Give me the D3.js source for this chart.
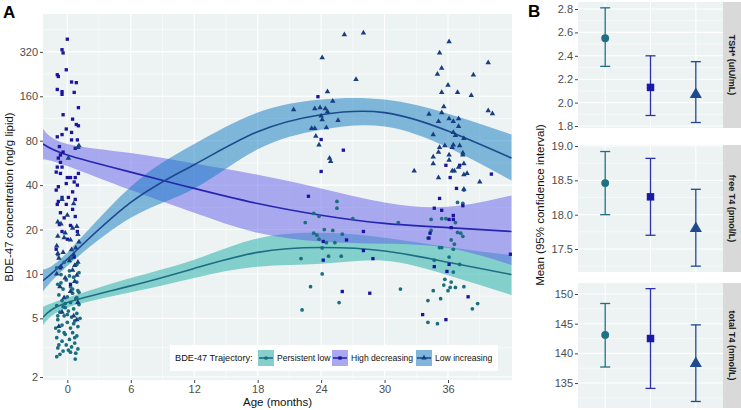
<!DOCTYPE html>
<html><head><meta charset="utf-8">
<script src="https://cdn.jsdelivr.net/npm/d3@7"></script>
<style>body{margin:0;background:#fff;}svg{font-family:"Liberation Sans",Arial,sans-serif;display:block}</style>
</head><body><svg id="c" width="741" height="410"></svg>
<script>
// ---------------- DATA ----------------
const groups = ["Persistent low", "High decreasing", "Low increasing"];
const xTicks = [0, 6, 12, 18, 24, 30, 36];
const yTicks = [2, 5, 10, 20, 40, 80, 160, 320];

// fitted curves (age in months) with 95% bands
const fitAges = [-2.3, 0, 6, 12, 18, 24, 30, 36, 42];
const fitPL  = [5.1, 6.4, 8.3, 10.9, 14.0, 15.1, 14.3, 12.0, 9.9];
const lowPL  = [4.5, 5.9, 7.5, 9.4, 11.2, 11.7, 12.3, 9.8, 7.2];
const upPL   = [6.0, 6.9, 9.4, 12.5, 17.4, 19.0, 17.6, 15.2, 13.4];
const fitHD  = [76, 64, 49, 38, 30, 25, 22, 20.6, 19.4];
const lowHD  = [60, 54, 37, 26, 19, 16.6, 16.0, 15.0, 11.5];
const upHD   = [96, 76, 66, 56, 47, 38, 30.5, 28.5, 34];
const fitLI  = [9.0, 12.6, 30.5, 55, 92, 120, 124, 93, 61];
const lowLI  = [7.6, 11.3, 24, 38, 70, 95, 100, 72, 43];
const upLI   = [10.7, 14.0, 39, 76, 124, 152, 152, 122, 88];

// individual measurements [age, concentration]
const ptsPL = [
 [-0.9,13.5],[0.4,12.8],[-0.3,12.0],[0.9,11.6],[-1.0,11.0],[0.2,10.5],[1.1,10.2],[-0.6,9.9],[0.6,9.5],[-0.1,9.1],
 [0.9,8.8],[-0.9,8.5],[0.3,8.2],[-0.4,7.9],[1.0,7.7],[0.5,7.4],[-0.8,7.2],[0.0,7.0],[0.8,6.8],[-0.5,6.6],
 [0.3,6.4],[1.1,6.2],[-1.0,6.1],[-0.2,5.9],[0.6,5.8],[0.1,5.6],[-0.7,5.5],[0.9,5.4],[-0.3,5.2],[0.4,5.1],
 [-0.9,4.9],[0.7,4.8],[0.0,4.7],[-0.5,4.5],[1.0,4.4],[0.3,4.3],[-0.8,4.1],[0.5,4.0],[-0.2,3.9],[0.9,3.8],
 [-1.0,3.7],[0.2,3.6],[-0.5,3.5],[0.7,3.4],[-0.1,3.3],[0.4,3.2],[-0.9,3.15],[1.0,3.1],[-0.4,3.0],[0.3,2.95],
 [-0.7,2.85],[0.1,3.05],[0.8,2.9],[-1.0,2.75],[0.75,2.65],[-0.2,6.3],[0.5,7.9],[-0.6,8.7],[0.2,9.7],[-0.9,5.2],
 [0.9,6.9],[-0.3,4.0],[0.7,3.7],[0.0,5.3],[-0.8,3.3],[1.2,5.0],[-1.1,4.3],[0.6,4.6],[-0.4,6.0],[1.1,7.5],
 [25.5,31],[25.5,27.9],[23.3,25.7],[23.8,24.6],[22.5,22.3],[27.0,23.7],[23.3,18.9],[23.6,18.3],[24.3,20],[25.1,19.7],
 [23.8,17.2],[26.0,18.6],[25.3,16.3],[24.5,16.3],[24.1,15],[22.1,12.7],[24.7,13.2],[25.9,13.2],[24.1,10],[23.0,8.2],
 [25.7,6.4],[22.2,5.7],[31.3,22.3],[31.5,7.9],
 [34.4,23.4],[35.4,23.7],[35.8,23.7],[36.7,22.3],[36.9,19.1],[37.2,18.9],[37.4,18],[34.4,19.7],[34.1,17.5],[36.3,17],
 [36.6,15.9],[35.2,15.1],[35.4,15.1],[36.5,14.7],[36.9,30.5],[37.4,30.1],[37.5,37],[34.7,12.4],[36.1,13.0],[37.1,11.6],
 [36.5,10.3],[35.7,9.2],[36.3,8.8],[35.6,8.4],[36.2,8.1],[36.0,7.7],[36.7,8.1],[37.5,8.2],[34.6,7.7],[34.1,6.6],
 [35.3,6.8],[38.8,6.3],[38.3,5.8],[34.1,4.7],[35.0,4.6]
];
const ptsHD = [
 [0,390],[-0.5,331],[-0.4,315],[-0.1,242],[-0.95,224],[-0.85,218],[0.4,200],[0.85,198],[-0.95,178],[-0.5,172],
 [-0.5,165],[0.65,170],[1.05,134],[-0.4,120],[0.5,112],[0.85,103],[1.05,101],[-0.1,96],[0.4,91],[-0.95,85],
 [-0.5,88],[0.4,81],[0.95,81],[-0.75,73],[-0.4,67],[-0.65,64],[-0.85,61],[0.75,71],[-0.65,57],[-0.95,53],
 [-0.5,53],[-1.05,49],[-0.65,48],[0,45],[0.3,45],[1.05,48],[0.75,45],[-0.1,41],[0.65,42],[-0.85,39],
 [0.95,40],[-1.05,37],[0.5,36],[-0.5,33],[0.1,33],[0.75,32],[-0.85,31],[-0.95,29.6],[-0.1,29.6],[0.5,27.4],
 [-0.65,26],[-0.3,24],[0.75,24.5],[-0.75,21.6],[0.3,21.3],[-0.5,19.4],[0.95,19.4],[0,17.2],[-1.05,14.7],[0.65,13],
 [-0.65,11],[0.3,8.5],
 [23.7,159],[24.0,81.5],[26.1,69],[24.0,49.5],[22.8,33.6],[28.0,19.4],[26.4,17],[24.2,16.6],[28.0,14.4],[24.2,12.4],
 [28.9,12.7],[26.0,7.6],[28.6,7.4],
 [35.8,54.5],[37.1,54.5],[36.2,45],[40.1,47.5],[36.8,38],[35.2,32.5],[34.7,27.9],[35.4,27],[37.4,29],[36.5,24.9],
 [36.1,23.4],[36.5,23.4],[34.3,18.9],[34.2,17.5],[36.3,20.6],[41.9,13.6],[34.7,11.2],[36.1,11.6],[35.9,10.4],[37.9,7.0],
 [33.6,5.3],[35.8,4.9]
];
const ptsLI = [
 [1.0,72],[1.1,74],[0.1,61],[-0.5,32],[0.6,30],[-0.9,22.5],[-0.6,21.8],[0.5,20.4],[0.9,21],[-0.9,18],
 [-0.3,17.6],[0.3,17],[1.1,16.5],[-1.0,15.5],[0.8,15],[-0.4,14],[0.6,13.5],[-0.8,12.8],[0.2,12.3],[1.0,12.0],
 [-0.6,11.2],[0.5,10.6],[-1.0,10],[0.9,9.8],[-0.2,9.4],[0.7,8.9],[-0.7,8.2],[0.3,7.6],[-0.3,6.9],[1.0,6.4],
 [0.6,5.2],[0.9,4.9],[-0.5,5.5],[-0.8,4.4],[0.0,25],[-0.2,19],[1.0,18.5],[0.4,14.6],[-0.9,13.8],[0.7,11.4],
 [26.2,419],[28.0,430],[24.1,292],[27.3,208],[24.6,172],[25.1,148],[21.4,130],[23.4,132],[23.9,134],[24.4,132],
 [24.6,126],[24.0,118],[24.1,111],[25.6,110],[23.1,97],[23.4,97],[24.5,98],[23.5,86],[23.8,75],[24.8,61],[24.9,58],
 [36.1,375],[35.2,315],[39.8,270],[35.4,248],[35.0,226],[38.4,223],[36.0,190],[35.4,170],[36.9,170],[38.2,162],
 [35.6,136],[35.4,124],[39.8,128],[40.2,122],[34.2,121],[36.1,113],[36.5,108],[37.0,113],[35.1,108],[37.0,100],
 [36.5,91],[36.7,87],[34.6,88],[37.5,83],[35.7,74],[36.5,75],[37.1,74],[35.2,72],[35.1,67],[36.4,72],
 [37.4,66],[36.1,64],[34.6,62],[37.4,64],[36.1,59],[34.6,56],[37.5,56],[37.0,53],[36.4,50],[36.6,50],
 [37.8,48],[37.5,47],[32.8,50],[35.1,45],[39.0,42],[37.5,37.6]
];

// Panel B: mean and 95% CI by trajectory group
const tshMean = [2.55, 2.13, 2.07], tshLow = [2.31, 1.89, 1.83], tshHigh = [2.81, 2.40, 2.35];
const ft4Mean = [18.46, 18.26, 17.80], ft4Low = [18.00, 17.70, 17.25], ft4High = [18.92, 18.82, 18.37];
const tt4Mean = [143.1, 142.5, 138.3], tt4Low = [137.7, 134.1, 131.9], tt4High = [148.4, 150.9, 144.8];
const tshTicks = [1.8, 2.0, 2.2, 2.4, 2.6, 2.8];
const ft4Ticks = [17.5, 18.0, 18.5, 19.0];
const tt4Ticks = [135, 140, 145, 150];
const stripLabels = ["TSH* (uIU/mL)", "free T4 (pmol/L)", "total T4 (nmol/L)"];

// ---------------- STYLE ----------------
const BG = "#edf2f2";
const ptCol = ["#1b6d80", "#1c14a0", "#173f80"];
const lineCol = ["#1f6d85", "#2626b0", "#1d4a8e"];
const ribCol = ["#18aba5", "#625de9", "#1079c1"];
const ribOp = 0.5;
const barCol = ["#1f6f85", "#3030ac", "#1f4a8e"];
const tickTxt = "#4d4d4d";

const svg = d3.select("#c");

function styleAxis(g) {
  g.select(".domain").remove();
  g.selectAll(".tick line").attr("stroke", "#444").attr("stroke-width", 1);
  g.selectAll(".tick text").attr("fill", tickTxt).style("font-size", "11px").style("font-family", '"Liberation Sans",Arial,sans-serif');
}

// ---------------- PANEL A ----------------
const A = {l: 43, r: 512, t: 14, b: 380};
const x = d3.scaleLinear().domain([-2.3, 42.05]).range([A.l, A.r]);
const y = d3.scaleLog().base(2).domain([1.91, 578]).range([A.b, A.t]);

const gA = svg.append("g");
gA.append("rect").attr("x", A.l).attr("y", A.t).attr("width", A.r - A.l).attr("height", A.b - A.t).attr("fill", BG);

const xMinor = [3, 9, 15, 21, 27, 33, 39];
const yMinor = [];
for (let i = 0; i < yTicks.length - 1; i++) yMinor.push(Math.sqrt(yTicks[i] * yTicks[i + 1]));
yMinor.push(yTicks[yTicks.length - 1] * Math.SQRT2);

gA.selectAll(".xmin").data(xMinor).join("line").attr("x1", d => x(d)).attr("x2", d => x(d)).attr("y1", A.t).attr("y2", A.b).attr("stroke", "#fff").attr("stroke-width", 0.55);
gA.selectAll(".ymin").data(yMinor).join("line").attr("y1", d => y(d)).attr("y2", d => y(d)).attr("x1", A.l).attr("x2", A.r).attr("stroke", "#fff").attr("stroke-width", 0.55);
gA.selectAll(".xmaj").data(xTicks).join("line").attr("x1", d => x(d)).attr("x2", d => x(d)).attr("y1", A.t).attr("y2", A.b).attr("stroke", "#fff").attr("stroke-width", 1.1);
gA.selectAll(".ymaj").data(yTicks).join("line").attr("y1", d => y(d)).attr("y2", d => y(d)).attr("x1", A.l).attr("x2", A.r).attr("stroke", "#fff").attr("stroke-width", 1.1);

svg.append("defs").append("clipPath").attr("id", "clipA").append("rect").attr("x", A.l).attr("y", A.t).attr("width", A.r - A.l).attr("height", A.b - A.t);
const plot = gA.append("g").attr("clip-path", "url(#clipA)");

const series = [
  {fit: fitPL, low: lowPL, up: upPL, pts: ptsPL, shape: d3.symbolCircle, size: 11},
  {fit: fitHD, low: lowHD, up: upHD, pts: ptsHD, shape: d3.symbolSquare, size: 11},
  {fit: fitLI, low: lowLI, up: upLI, pts: ptsLI, shape: d3.symbolTriangle, size: 13}
];
const area = d3.area().x(d => x(d.a)).y0(d => y(d.lo)).y1(d => y(d.hi)).curve(d3.curveNatural);
const line = d3.line().x(d => x(d.a)).y(d => y(d.f)).curve(d3.curveNatural);

series.forEach((s, i) => {
  const rows = fitAges.map((a, k) => ({a, f: s.fit[k], lo: s.low[k], hi: s.up[k]}));
  plot.append("path").datum(rows).attr("d", area).attr("fill", ribCol[i]).attr("fill-opacity", ribOp);
});
series.forEach((s, i) => {
  const rows = fitAges.map((a, k) => ({a, f: s.fit[k]}));
  plot.append("path").datum(rows).attr("d", line).attr("fill", "none").attr("stroke", lineCol[i]).attr("stroke-width", 1.6);
});
series.forEach((s, i) => {
  const sym = d3.symbol().type(s.shape).size(s.size);
  plot.selectAll(null).data(s.pts).join("path")
    .attr("d", sym).attr("transform", d => `translate(${x(d[0])},${y(d[1])})`)
    .attr("fill", ptCol[i]);
});

const axXA = gA.append("g").attr("transform", `translate(0,${A.b})`).call(d3.axisBottom(x).tickValues(xTicks).tickSize(3).tickPadding(2));
styleAxis(axXA);
const axYA = gA.append("g").attr("transform", `translate(${A.l},0)`).call(d3.axisLeft(y).tickValues(yTicks).tickFormat(d3.format("d")).tickSize(3).tickPadding(2));
styleAxis(axYA);

svg.append("text").attr("x", (A.l + A.r) / 2).attr("y", 406).attr("text-anchor", "middle").style("font-size", "11.5px").attr("fill", "#111").text("Age (months)");
svg.append("text").attr("transform", `translate(13,${(A.t + A.b) / 2}) rotate(-90)`).attr("text-anchor", "middle").style("font-size", "11.5px").attr("fill", "#111").text("BDE-47 concentration (ng/g lipid)");
svg.append("text").attr("x", 3).attr("y", 18).style("font-size", "17px").style("font-weight", "bold").attr("fill", "#000").text("A");

// legend
const lg = svg.append("g");
lg.append("rect").attr("x", 170).attr("y", 345).attr("width", 328).attr("height", 26).attr("fill", "#fff");
lg.append("text").attr("x", 175).attr("y", 361).style("font-size", "9.2px").attr("fill", "#111").text("BDE-47 Trajectory:");
const keyX = [258, 332, 416];
groups.forEach((g, i) => {
  const kx = keyX[i], ky = 350;
  lg.append("rect").attr("x", kx).attr("y", ky).attr("width", 16).attr("height", 16).attr("fill", "#f2f2f2");
  lg.append("rect").attr("x", kx).attr("y", ky).attr("width", 16).attr("height", 16).attr("fill", ribCol[i]).attr("fill-opacity", ribOp);
  lg.append("line").attr("x1", kx + 1).attr("x2", kx + 15).attr("y1", ky + 8).attr("y2", ky + 8).attr("stroke", lineCol[i]).attr("stroke-width", 1.6);
  lg.append("path").attr("d", d3.symbol().type(series[i].shape).size(series[i].size)).attr("transform", `translate(${kx + 8},${ky + 8})`).attr("fill", ptCol[i]);
  lg.append("text").attr("x", kx + 19).attr("y", 361).style("font-size", "8.6px").attr("fill", "#111").text(g);
});

// ---------------- PANEL B ----------------
const B = {l: 578, r: 723};
const xb = d3.scalePoint().domain(groups).range([B.l, B.r]).padding(0.6);
const panelsB = [
  {t: 2, b: 128, dom: [1.783, 2.86], ticks: tshTicks, mean: tshMean, lo: tshLow, hi: tshHigh, fmt: d3.format(".1f"), label: stripLabels[0]},
  {t: 145, b: 272, dom: [17.165, 19.015], ticks: ft4Ticks, mean: ft4Mean, lo: ft4Low, hi: ft4High, fmt: d3.format(".1f"), label: stripLabels[1]},
  {t: 283, b: 408, dom: [130.8, 151.85], ticks: tt4Ticks, mean: tt4Mean, lo: tt4Low, hi: tt4High, fmt: d3.format("d"), label: stripLabels[2]}
];
const shapesB = [d3.symbolCircle, d3.symbolSquare, d3.symbolTriangle];
const sizesB = [48, 56, 64];

panelsB.forEach((p, pi) => {
  const yb = d3.scaleLinear().domain(p.dom).range([p.b, p.t]);
  const g = svg.append("g");
  g.append("rect").attr("x", B.l).attr("y", p.t).attr("width", B.r - B.l).attr("height", p.b - p.t).attr("fill", BG);
  const step = p.ticks[1] - p.ticks[0];
  const minors = [p.ticks[0] - step / 2, ...p.ticks.map(t => t + step / 2)].filter(v => v > p.dom[0] && v < p.dom[1]);
  g.selectAll(null).data(minors).join("line").attr("x1", B.l).attr("x2", B.r).attr("y1", d => yb(d)).attr("y2", d => yb(d)).attr("stroke", "#fff").attr("stroke-width", 0.55);
  g.selectAll(null).data(p.ticks).join("line").attr("x1", B.l).attr("x2", B.r).attr("y1", d => yb(d)).attr("y2", d => yb(d)).attr("stroke", "#fff").attr("stroke-width", 1.1);
  g.selectAll(null).data(groups).join("line").attr("x1", d => xb(d)).attr("x2", d => xb(d)).attr("y1", p.t).attr("y2", p.b).attr("stroke", "#fff").attr("stroke-width", 1.1);
  groups.forEach((gr, i) => {
    const cx = xb(gr);
    g.append("line").attr("x1", cx).attr("x2", cx).attr("y1", yb(p.lo[i])).attr("y2", yb(p.hi[i])).attr("stroke", barCol[i]).attr("stroke-width", 1.3);
    [p.lo[i], p.hi[i]].forEach(v => g.append("line").attr("x1", cx - 5).attr("x2", cx + 5).attr("y1", yb(v)).attr("y2", yb(v)).attr("stroke", barCol[i]).attr("stroke-width", 1.3));
    g.append("path").attr("d", d3.symbol().type(shapesB[i]).size(sizesB[i])).attr("transform", `translate(${cx},${yb(p.mean[i])})`).attr("fill", i === 1 ? "#1a1aa8" : barCol[i]);
  });
  const ax = g.append("g").attr("transform", `translate(${B.l},0)`).call(d3.axisLeft(yb).tickValues(p.ticks).tickFormat(p.fmt).tickSize(3).tickPadding(2));
  styleAxis(ax);
  // strip
  g.append("rect").attr("x", B.r).attr("y", p.t).attr("width", 741 - B.r).attr("height", p.b - p.t).attr("fill", "#d9d9d9");
  g.append("text").attr("transform", `translate(${B.r + 9},${(p.t + p.b) / 2}) rotate(90)`).attr("text-anchor", "middle").attr("dominant-baseline", "central")
    .style("font-size", "9px").style("font-weight", "bold").attr("fill", "#1a1a1a").text(p.label);
});

svg.append("text").attr("transform", `translate(540,205) rotate(-90)`).attr("text-anchor", "middle").attr("dominant-baseline", "central").style("font-size", "11.5px").attr("fill", "#111").text("Mean (95% confidence interval)");
svg.append("text").attr("x", 528).attr("y", 17).style("font-size", "17px").style("font-weight", "bold").attr("fill", "#000").text("B");
</script>
</body></html>
